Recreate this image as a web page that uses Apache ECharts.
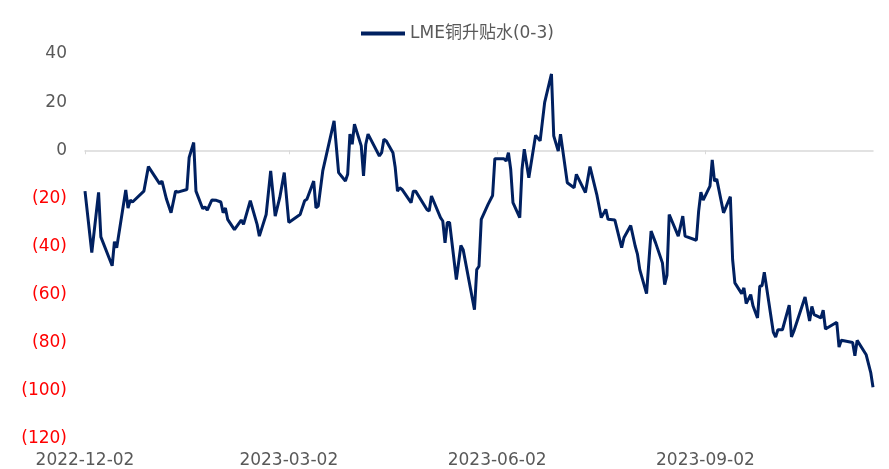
<!DOCTYPE html>
<html>
<head>
<meta charset="utf-8">
<script src="https://cdn.jsdelivr.net/npm/echarts@6/dist/echarts.min.js"></script>
<style>
  html, body { margin: 0; padding: 0; background: #fff; }
  #main { width: 889px; height: 469px; }
</style>
</head>
<body>
<div id="main"></div>
<script>
// dates and values (LME copper 0-3 spread)
const dates = [
  '2022-12-02', '2022-12-05', '2022-12-08', '2022-12-09', '2022-12-14', '2022-12-15', '2022-12-16',
  '2022-12-20', '2022-12-21', '2022-12-22', '2022-12-23', '2022-12-28', '2022-12-30',
  '2023-01-04', '2023-01-05', '2023-01-07', '2023-01-09', '2023-01-11', '2023-01-12', '2023-01-16',
  '2023-01-17', '2023-01-19', '2023-01-20', '2023-01-23', '2023-01-24', '2023-01-25', '2023-01-27',
  '2023-01-29', '2023-01-31', '2023-02-01', '2023-02-02', '2023-02-03', '2023-02-06', '2023-02-09',
  '2023-02-10', '2023-02-13', '2023-02-16', '2023-02-17', '2023-02-20', '2023-02-22', '2023-02-24',
  '2023-02-26', '2023-02-28', '2023-03-02', '2023-03-07', '2023-03-09', '2023-03-10', '2023-03-13',
  '2023-03-14', '2023-03-15', '2023-03-17', '2023-03-20', '2023-03-22', '2023-03-24', '2023-03-27',
  '2023-03-28', '2023-03-29', '2023-03-30', '2023-03-31', '2023-04-03', '2023-04-04', '2023-04-05',
  '2023-04-06', '2023-04-11', '2023-04-12', '2023-04-13', '2023-04-14', '2023-04-17', '2023-04-18',
  '2023-04-19', '2023-04-20', '2023-04-21', '2023-04-25', '2023-04-26', '2023-04-27', '2023-05-02',
  '2023-05-03', '2023-05-04', '2023-05-08', '2023-05-09', '2023-05-10', '2023-05-11', '2023-05-12',
  '2023-05-15', '2023-05-17', '2023-05-18', '2023-05-23', '2023-05-24', '2023-05-25', '2023-05-26',
  '2023-05-29', '2023-05-31', '2023-06-01', '2023-06-05', '2023-06-06', '2023-06-07', '2023-06-08',
  '2023-06-09', '2023-06-12', '2023-06-13', '2023-06-14', '2023-06-16', '2023-06-19', '2023-06-21',
  '2023-06-23', '2023-06-26', '2023-06-27', '2023-06-29', '2023-06-30', '2023-07-03', '2023-07-06',
  '2023-07-07', '2023-07-11', '2023-07-13', '2023-07-16', '2023-07-18', '2023-07-20', '2023-07-21',
  '2023-07-24', '2023-07-27', '2023-07-28', '2023-07-31', '2023-08-02', '2023-08-03', '2023-08-04',
  '2023-08-07', '2023-08-09', '2023-08-11', '2023-08-14', '2023-08-15', '2023-08-16', '2023-08-17',
  '2023-08-21', '2023-08-23', '2023-08-24', '2023-08-29', '2023-08-30', '2023-08-31', '2023-09-01',
  '2023-09-04', '2023-09-05', '2023-09-06', '2023-09-07', '2023-09-10', '2023-09-13', '2023-09-14',
  '2023-09-15', '2023-09-18', '2023-09-19', '2023-09-20', '2023-09-22', '2023-09-23', '2023-09-25',
  '2023-09-26', '2023-09-27', '2023-09-28', '2023-10-02', '2023-10-03', '2023-10-04', '2023-10-06',
  '2023-10-09', '2023-10-10', '2023-10-11', '2023-10-16', '2023-10-18', '2023-10-19', '2023-10-20',
  '2023-10-23', '2023-10-24', '2023-10-25', '2023-10-30', '2023-10-31', '2023-11-01', '2023-11-06',
  '2023-11-07', '2023-11-08', '2023-11-12', '2023-11-14', '2023-11-15'
];
const values = [
  -17, -42.5, -17.5, -36, -48, -38, -40.5,
  -16.5, -24, -20.7, -21.5, -17, -6.8,
  -14, -12.8, -20.4, -26, -17, -17.4, -16.3,
  -3, 3.2, -17, -24.3, -23.5, -24.9, -20.7,
  -20.8, -21.5, -26, -24, -28.7, -33, -29,
  -30.8, -21, -30.8, -35.7, -26.7, -8.6, -27.4,
  -19.7, -9.3, -30, -26.7, -21, -20.4, -12.8,
  -23.9, -23.2, -8.6, 3.9, 12.2, -9.3, -12.8,
  -10, 6.7, 2.5, 10.8, 1.8, -10.7, 2.5,
  6.7, -2.4, -1, 4.6, 3.9, -1, -7.2,
  -17, -15.6, -16.3, -21.8, -17, -17, -24.6,
  -25.3, -19, -28, -29.4, -38.5, -30, -30,
  -53.7, -39.6, -41.3, -66.3, -49.6, -48.2, -28.7,
  -22.5, -18.8, -3.5, -3.5, -4.5, -1, -7.9,
  -21.8, -28, -7.9, 0.4, -11.4, 6.2, 3.9,
  19.9, 31.7, 6, -0.3, 6.7, -13.5, -15.6,
  -10, -17.6, -6.8, -18.3, -28, -24.6, -28.7,
  -29, -40.5, -36.4, -31.3, -39.9, -43.3, -49.6,
  -59.6, -33.6, -38.5, -46.8, -55.8, -52, -26.7,
  -35.7, -27.4, -35.7, -37.4, -25.3, -17.4, -20.7,
  -14.9, -4, -12.8, -12, -26, -19.3, -45.4,
  -55.1, -59.6, -57.2, -63.7, -60, -64.6, -69.7,
  -56.5, -56.3, -50.7, -75.7, -77.6, -74.6, -74.6,
  -64.4, -77.6, -75.3, -61, -71, -64.9, -68.3,
  -69.7, -66.5, -74.3, -71.5, -81.8, -79, -79.9,
  -85.4, -79, -85, -92.4, -98.5
];
const tickDates = ['2022-12-02', '2023-03-02', '2023-06-02', '2023-09-02'];

const myChart = echarts.init(document.getElementById('main'));

// dates go on a plain value axis as timestamps so the label ticks can be fixed
const toTime = (s) => +new Date(s + 'T00:00:00');
const ticks = tickDates.map(toTime);
const xMin = toTime('2022-12-02');
const xMax = toTime('2023-11-15');
const font = '"DejaVu Sans", "Noto Sans CJK SC", sans-serif';

const option = {
  animation: false,
  textStyle: { fontFamily: font },
  legend: {
    top: 20,
    left: 356,
    icon: 'rect',
    itemWidth: 44,
    itemHeight: 4,
    itemGap: 5,
    textStyle: { color: '#595959', fontSize: 17, fontFamily: font },
    data: ['LME铜升贴水(0-3)'],
  },
  grid: { left: 85, right: 16, top: 54, bottom: 30 },
  xAxis: [
    {
      type: 'value',
      min: xMin,
      max: xMax,
      axisLine: { show: false, onZero: false },
      axisTick: { show: false },
      splitLine: { show: false },
      axisLabel: {
        customValues: ticks,
        color: '#595959',
        fontSize: 17,
        margin: 13,
        formatter: (v) => echarts.time.format(v, '{yyyy}-{MM}-{dd}', false),
      },
    },
    {
      type: 'value',
      min: xMin,
      max: xMax,
      position: 'bottom',
      axisLine: { show: true, onZero: true, lineStyle: { color: '#D9D9D9', width: 1.5 } },
      axisTick: { show: true, customValues: ticks, length: 4, lineStyle: { color: '#D9D9D9' } },
      axisLabel: { show: false },
      splitLine: { show: false },
    },
  ],
  yAxis: {
    type: 'value',
    min: -120,
    max: 40,
    interval: 20,
    axisLine: { show: false },
    axisTick: { show: false },
    splitLine: { show: false },
    axisLabel: {
      fontSize: 17,
      margin: 18,
      color: (v) => (v < 0 ? '#FF0000' : '#595959'),
      formatter: (v) => (v < 0 ? '(' + -v + ')' : String(v)),
    },
  },
  series: [
    {
      name: 'LME铜升贴水(0-3)',
      type: 'line',
      xAxisIndex: 0,
      symbol: 'none',
      lineStyle: { color: '#002060', width: 3 },
      itemStyle: { color: '#002060' },
      data: dates.map((d, i) => [toTime(d), values[i]]),
    },
  ],
};

myChart.setOption(option);
</script>
</body>
</html>
